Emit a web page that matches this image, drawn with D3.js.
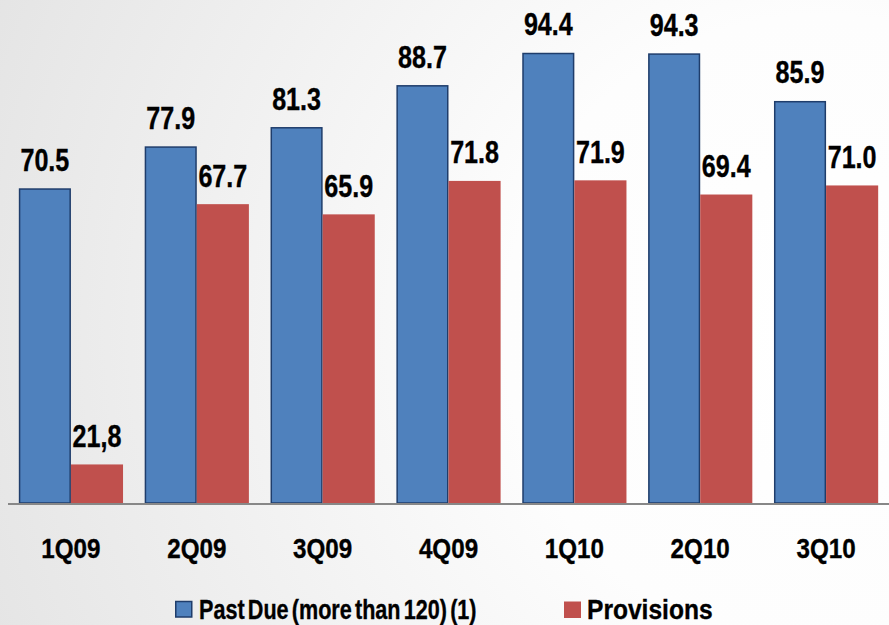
<!DOCTYPE html>
<html>
<head>
<meta charset="utf-8">
<script src="https://cdn.jsdelivr.net/npm/d3@7"></script>
<style>
  html, body { margin: 0; padding: 0; background: #fff; }
  svg { display: block; }
  text { font-family: "Liberation Sans", Arial, sans-serif; font-weight: bold; fill: #000; stroke: #000; stroke-width: 0.35px; }
</style>
</head>
<body>
<svg id="chart" width="889" height="625"></svg>
<script>
const categories = ["1Q09", "2Q09", "3Q09", "4Q09", "1Q10", "2Q10", "3Q10"];
const pastDue = [70.5, 77.9, 81.3, 88.7, 94.4, 94.3, 85.9];
const provisions = [21.8, 67.7, 65.9, 71.8, 71.9, 69.4, 71.0];
const pastDueLabels = ["70.5", "77.9", "81.3", "88.7", "94.4", "94.3", "85.9"];
const provisionLabels = ["21,8", "67.7", "65.9", "71.8", "71.9", "69.4", "71.0"];
const seriesNames = ["Past Due (more than 120) (1)", "Provisions"];
const yDomain = [15, 100];

const W = 889, H = 625;
const svg = d3.select("#chart");

// background gradient
const defs = svg.append("defs");
const rg = defs.append("radialGradient")
  .attr("id", "bg").attr("gradientUnits", "userSpaceOnUse")
  .attr("cx", 820).attr("cy", 330).attr("r", 900);
rg.append("stop").attr("offset", "0%").attr("stop-color", "#ffffff");
rg.append("stop").attr("offset", "35%").attr("stop-color", "#fdfdfd");
rg.append("stop").attr("offset", "100%").attr("stop-color", "#e4e4e4");
svg.append("rect").attr("width", W).attr("height", H).attr("fill", "url(#bg)");

const x0 = d3.scaleBand().domain(categories).range([8, 889])
  .paddingInner(0.172).paddingOuter(0.086);
const x1 = d3.scaleBand().domain([0, 1]).range([0, x0.bandwidth()]);
const y = d3.scaleLinear().domain(yDomain).range([503, 21]);

const colors = ["#4f81bd", "#c0504d"];
const series = [pastDue, provisions];
const labels = [pastDueLabels, provisionLabels];

series.forEach((vals, s) => {
  const g = svg.append("g");
  g.selectAll("rect").data(vals).join("rect")
    .attr("x", (d, i) => x0(categories[i]) + x1(s) + (s === 0 ? 0.75 : 0))
    .attr("y", d => y(d) + (s === 0 ? 0.75 : 0))
    .attr("width", x1.bandwidth() - (s === 0 ? 1.5 : 0))
    .attr("height", d => y(yDomain[0]) - y(d) - (s === 0 ? 0.75 : 0))
    .attr("fill", colors[s])
    .attr("stroke", s === 0 ? "#1f3d6b" : "none")
    .attr("stroke-width", s === 0 ? 1.5 : 0);
  g.selectAll("text").data(vals).join("text")
    .attr("text-anchor", "middle")
    .attr("font-size", 31)
    .attr("transform", (d, i) => `translate(${x0(categories[i]) + x1(s) + x1.bandwidth() / 2},${y(d) - 17.5}) scale(0.81,1)`)
    .text((d, i) => labels[s][i]);
});

// axis
const xAxis = d3.axisBottom(x0).tickSize(0).tickPadding(0);
const ax = svg.append("g").attr("transform", "translate(0,503)").call(xAxis);
ax.select(".domain").remove();
ax.selectAll("text").remove();
svg.append("line").attr("x1", 8).attr("x2", 889).attr("y1", 504).attr("y2", 504)
  .attr("stroke", "#878787").attr("stroke-width", 2);
ax.selectAll(".tick").append("text")
  .attr("text-anchor", "middle")
  .attr("font-size", 28.5)
  .attr("transform", "translate(0,54.7) scale(0.85,1)")
  .text(d => d);

// legend
const legendItems = [
  { name: seriesNames[0], color: colors[0], stroke: "#1f3d6b", bx: 175, tx: 199, sx: 0.8, ws: -3.5 },
  { name: seriesNames[1], color: colors[1], stroke: "none", bx: 564, tx: 587, sx: 0.91, ws: 0 }
];
const lg = svg.append("g");
legendItems.forEach(it => {
  lg.append("rect").attr("x", it.bx + (it.stroke !== "none" ? 0.75 : 0)).attr("y", 601.5)
    .attr("width", it.stroke !== "none" ? 16 : 17).attr("height", it.stroke !== "none" ? 15.5 : 16.5)
    .attr("fill", it.color).attr("stroke", it.stroke).attr("stroke-width", 1.5);
  lg.append("text").attr("font-size", 27)
    .attr("word-spacing", it.ws)
    .attr("transform", `translate(${it.tx},619) scale(${it.sx},1)`)
    .text(it.name);
});
</script>
</body>
</html>
